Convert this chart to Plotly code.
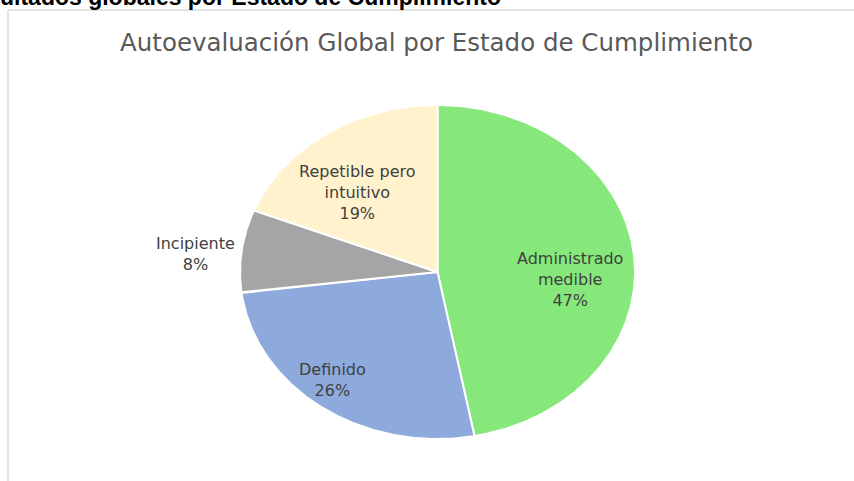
import numpy as np
import plotly.graph_objects as go

# Data
categories = ["Administrado medible", "Definido", "Incipiente", "Repetible pero intuitivo"]
values = [47, 26, 8, 19]
label_text = ["Administrado<br>medible<br>47%", "Definido<br>26%", "Incipiente<br>8%", "Repetible pero<br>intuitivo<br>19%"]
colors = ["#86E87A", "#8EA9DB", "#A5A5A5", "#FFF2CC"]
# label placement (unit-circle coordinates)
label_pos = [(0.671, -0.042), (-0.534, -0.647), (-1.225, 0.108), (-0.403, 0.479)]

W, H = 854, 481
L, R, T, B = 240, 219, 105, 42
pw, ph = W - L - R, H - T - B

fig = go.Figure()
total = sum(values)
cum = 0.0
for name, v, c in zip(categories, values, colors):
    a0 = cum / total * 2 * np.pi
    cum += v
    a1 = cum / total * 2 * np.pi
    th = np.linspace(a0, a1, 240)
    xs = np.concatenate([[0], np.sin(th), [0]])
    ys = np.concatenate([[0], np.cos(th), [0]])
    fig.add_trace(go.Scatter(x=xs, y=ys, mode="lines", fill="toself", fillcolor=c,
                             line=dict(color="white", width=2), name=name,
                             hoverinfo="name", showlegend=False))

for txt, (lx, ly) in zip(label_text, label_pos):
    fig.add_annotation(x=(lx + 1) / 2, y=(ly + 1) / 2, text=txt, showarrow=False,
                       xref="paper", yref="paper", xanchor="center", yanchor="middle",
                       font=dict(family="DejaVu Sans", size=16, color="#404040"))

def px2paperx(p):
    return (p - L) / pw

def px2papery(p):
    return 1 - (p - T) / ph

fig.add_shape(type="line", xref="paper", yref="paper",
              x0=px2paperx(8), x1=px2paperx(860), y0=px2papery(10), y1=px2papery(10),
              line=dict(color="#D9D9D9", width=1.5))
fig.add_shape(type="line", xref="paper", yref="paper",
              x0=px2paperx(8), x1=px2paperx(8), y0=px2papery(10), y1=px2papery(490),
              line=dict(color="#D9D9D9", width=1.5))

fig.add_annotation(text="Autoevaluación Global por Estado de Cumplimiento", xref="paper", yref="paper",
                   x=px2paperx(436), y=px2papery(43), xanchor="center", yanchor="middle",
                   showarrow=False, font=dict(family="DejaVu Sans", size=24.5, color="#595959"))
fig.add_annotation(text="<b>ultados globales por Estado de Cumplimiento</b>", xref="paper", yref="paper",
                   x=px2paperx(-2), y=px2papery(12), xanchor="left", yanchor="bottom",
                   showarrow=False, font=dict(family="Liberation Sans", size=23, color="black"))

fig.update_layout(width=W, height=H, margin=dict(l=L, r=R, t=T, b=B),
                  paper_bgcolor="white", plot_bgcolor="white",
                  xaxis=dict(range=[-1, 1], visible=False, fixedrange=True),
                  yaxis=dict(range=[-1, 1], visible=False, fixedrange=True),
                  showlegend=False)
fig.write_html("out.html", config={"displayModeBar": False},
               post_script="document.body.style.margin='0px';")
